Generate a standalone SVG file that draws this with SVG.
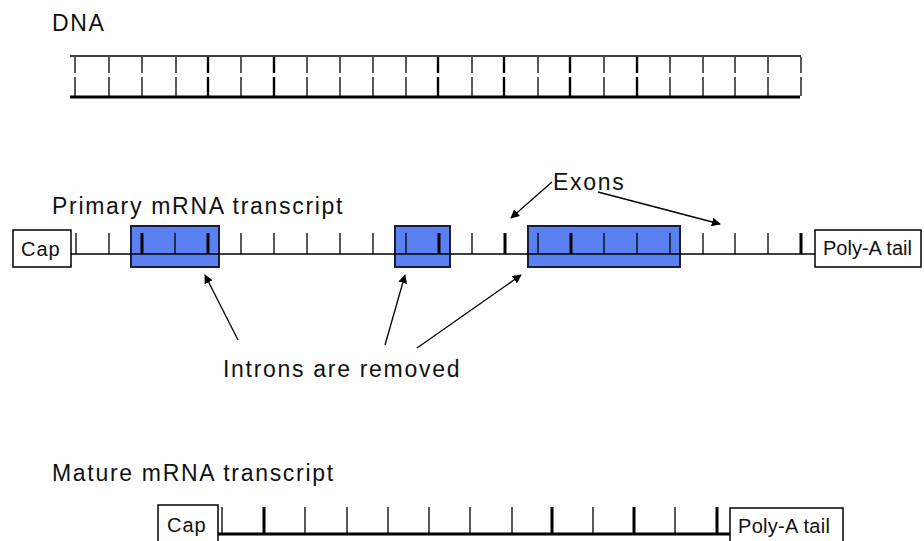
<svg xmlns="http://www.w3.org/2000/svg" width="924" height="541" viewBox="0 0 924 541">
<style>
text{font-family:"Liberation Sans",Arial,sans-serif;fill:#111}
.lbl{font-size:23px;letter-spacing:1.7px}
.box{font-size:20px}
.t{stroke:#000;stroke-width:1.3}
.k{stroke:#000;stroke-width:3}
.bb{fill:#fff;stroke:#000;stroke-width:1.5}
.ex{fill:#5a80f2;stroke:#1c1c3c;stroke-width:2}
.ar{stroke:#000;stroke-width:1.3;fill:none;marker-end:url(#ah)}
</style>
<defs>
<marker id="ah" viewBox="0 0 10 10" refX="9" refY="5" markerWidth="9" markerHeight="9" markerUnits="userSpaceOnUse" orient="auto">
<path d="M0,0 L10,5 L0,10 z" fill="#000"/>
</marker>
</defs>
<rect width="924" height="541" fill="#fff"/>

<g id="dna">
<text class="lbl" x="52" y="31">DNA</text>
<line x1="70" y1="56" x2="801" y2="56" stroke="#000" stroke-width="1.5"/>
<line x1="70" y1="97" x2="800" y2="97" stroke="#000" stroke-width="3"/>
<g stroke="#000" stroke-width="1.3">
<path d="M75,57V73M75,77V96M109,57V73M109,77V96M142,57V73M142,77V96M176,57V73M176,77V96M241,57V73M241,77V96M307,57V73M307,77V96M340,57V73M340,77V96M373,57V73M373,77V96M406,57V73M406,77V96M472,57V73M472,77V96M538,57V73M538,77V96M604,57V73M604,77V96M670,57V73M670,77V96M703,57V73M703,77V96M735,57V73M735,77V96M768,57V73M768,77V96M801,57V73M801,77V96"/>
</g>
<g stroke="#000" stroke-width="2.4">
<path d="M208,57V73M208,77V96M274,57V73M274,77V96M438,57V73M438,77V96M504,57V73M504,77V96M570,57V73M570,77V96M637,57V73M637,77V96"/>
</g>
</g>

<g id="primary">
<text class="lbl" x="52" y="214">Primary mRNA transcript</text>
<rect class="ex" x="131" y="226" width="88" height="41"/>
<rect class="ex" x="395" y="226" width="55" height="41"/>
<rect class="ex" x="528" y="226" width="152" height="41"/>
<line x1="71" y1="254" x2="815" y2="254" stroke="#000" stroke-width="1.5"/>
<path class="t" d="M76,233V254M109,233V254M175,233V254M241,233V254M274,233V254M307,233V254M340,233V254M373,233V254M406,233V254M472,233V254M538,233V254M604,233V254M637,233V254M670,233V254M703,233V254M735,233V254M768,233V254"/>
<path class="k" d="M142,233V254M208,233V254M439,233V254M505,233V254M571,233V254M801,233V254"/>
<g id="cap1"><rect class="bb" x="13" y="230" width="58" height="37"/><text class="box" x="21" y="256" letter-spacing="1">Cap</text></g>
<g id="poly1"><rect class="bb" x="815" y="230" width="106" height="37"/><text class="box" x="823" y="255">Poly-A tail</text></g>
</g>

<g id="exons">
<text class="lbl" x="553" y="190" letter-spacing="1.3">Exons</text>
</g>

<g id="introns">
<text class="lbl" x="223" y="377">Introns are removed</text>
</g>

<g id="mature">
<text class="lbl" x="52" y="481">Mature mRNA transcript</text>
<line x1="218" y1="534" x2="730" y2="534" stroke="#000" stroke-width="3"/>
<path class="t" d="M222,507V534M305,507V534M347,507V534M388,507V534M429,507V534M470,507V534M512,507V534M593,507V534M675,507V534"/>
<path class="k" d="M264,507V534M552,507V534M634,507V534M717,507V534"/>
<g id="cap2"><rect class="bb" x="158" y="505" width="60" height="42"/><text class="box" x="167" y="532" letter-spacing="1">Cap</text></g>
<g id="poly2"><rect class="bb" x="730" y="508" width="113" height="40"/><text class="box" x="738" y="533" letter-spacing="0.3">Poly-A tail</text></g>
</g>

<g id="connectors">
<line class="ar" x1="552" y1="182" x2="511" y2="218"/>
<line class="ar" x1="598" y1="192" x2="720" y2="224"/>
<line class="ar" x1="238" y1="340" x2="205" y2="275"/>
<line class="ar" x1="385" y1="345" x2="405" y2="275"/>
<line class="ar" x1="417" y1="348" x2="521" y2="275"/>
</g>
</svg>
